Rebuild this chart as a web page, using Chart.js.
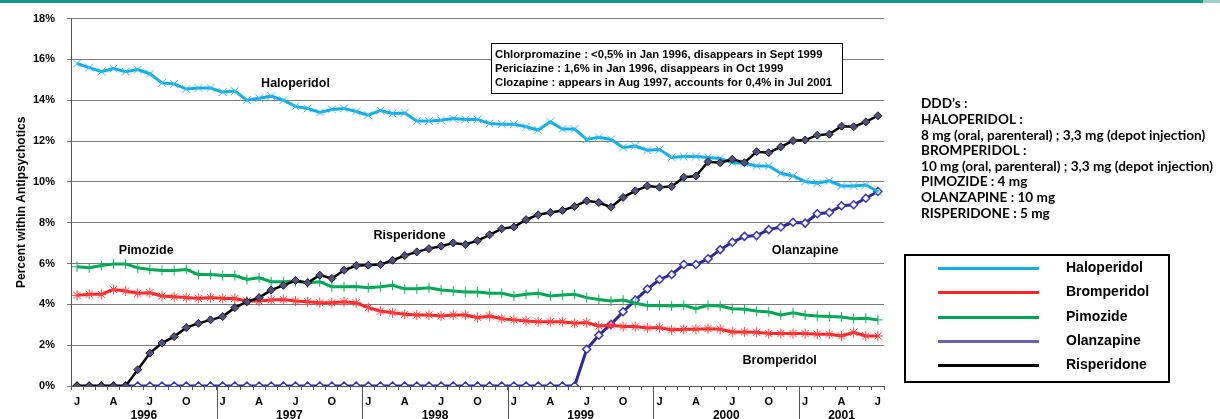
<!DOCTYPE html>
<html>
<head>
<meta charset="utf-8">
<script src="https://cdn.jsdelivr.net/npm/chart.js@4.4.1/dist/chart.umd.min.js"></script>
<style>
  html, body { margin: 0; padding: 0; background: #fff; }
  canvas { display: block; }
</style>
</head>
<body>
<canvas id="chart" width="1220" height="419"></canvas>
<script>
// monthly data, Jan 1996 .. Jul 2001
const years = [1996, 1997, 1998, 1999, 2000, 2001];
const monthLetters = ['J', 'F', 'M', 'A', 'M', 'J', 'J', 'A', 'S', 'O', 'N', 'D'];
const shownMonths = [0, 3, 6, 9];
const monthCount = 67;

const haloperidol = [15.8, 15.6, 15.4, 15.55, 15.4, 15.5, 15.3, 14.85, 14.8, 14.55, 14.6, 14.6,
  14.4, 14.45, 14.0, 14.1, 14.2, 14.0, 13.7, 13.6, 13.4, 13.55, 13.6, 13.45,
  13.27, 13.5, 13.35, 13.38, 12.98, 12.98, 13.02, 13.1, 13.06, 13.06, 12.86, 12.83,
  12.83, 12.7, 12.54, 12.94, 12.59, 12.59, 12.08, 12.18, 12.08, 11.69, 11.76, 11.55,
  11.59, 11.2, 11.24, 11.24, 11.2, 11.15, 10.94, 10.91, 10.78, 10.78, 10.42, 10.29,
  10.02, 9.93, 10.05, 9.8, 9.8, 9.85, 9.53];
const bromperidol = [4.44, 4.49, 4.49, 4.73, 4.65, 4.54, 4.57, 4.41, 4.37, 4.33, 4.29, 4.33,
  4.29, 4.29, 4.16, 4.16, 4.21, 4.24, 4.16, 4.13, 4.08, 4.08, 4.13, 4.08,
  3.84, 3.67, 3.59, 3.51, 3.48, 3.48, 3.43, 3.48, 3.48, 3.35, 3.43, 3.3,
  3.24, 3.19, 3.15, 3.15, 3.15, 3.07, 3.11, 2.94, 2.98, 2.91, 2.91, 2.84,
  2.86, 2.75, 2.78, 2.78, 2.81, 2.78, 2.65, 2.65, 2.63, 2.57, 2.57, 2.57,
  2.57, 2.54, 2.54, 2.45, 2.63, 2.45, 2.45];
const pimozide = [5.84, 5.79, 5.9, 5.98, 5.98, 5.79, 5.71, 5.66, 5.66, 5.71, 5.46, 5.46,
  5.41, 5.41, 5.22, 5.3, 5.11, 5.11, 5.13, 5.06, 5.11, 4.86, 4.86, 4.87,
  4.81, 4.86, 4.93, 4.76, 4.76, 4.81, 4.7, 4.65, 4.6, 4.6, 4.54, 4.54,
  4.41, 4.49, 4.54, 4.41, 4.46, 4.49, 4.33, 4.24, 4.16, 4.21, 4.05, 3.94,
  3.95, 3.92, 3.95, 3.79, 3.95, 3.92, 3.79, 3.76, 3.67, 3.63, 3.48, 3.59,
  3.48, 3.43, 3.4, 3.38, 3.3, 3.32, 3.24];
const olanzapine = [0, 0, 0, 0, 0, 0, 0, 0, 0, 0, 0, 0,
  0, 0, 0, 0, 0, 0, 0, 0, 0, 0, 0, 0,
  0, 0, 0, 0, 0, 0, 0, 0, 0, 0, 0, 0,
  0, 0, 0, 0, 0, 0, 1.8, 2.49, 3.02, 3.64, 4.21, 4.75,
  5.22, 5.46, 5.95, 5.95, 6.23, 6.68, 7.04, 7.33, 7.37, 7.66, 7.79, 8.02,
  7.98, 8.44, 8.5, 8.83, 8.88, 9.2, 9.53];
const risperidone = [0, 0, 0, 0, 0, 0.8, 1.61, 2.1, 2.42, 2.86, 3.07, 3.24,
  3.4, 3.84, 4.13, 4.33, 4.7, 4.93, 5.17, 5.06, 5.43, 5.27, 5.67, 5.9,
  5.92, 5.95, 6.16, 6.39, 6.57, 6.73, 6.85, 7.01, 6.93, 7.12, 7.41, 7.71,
  7.79, 8.15, 8.39, 8.5, 8.6, 8.8, 9.07, 8.99, 8.76, 9.24, 9.56, 9.8,
  9.74, 9.77, 10.23, 10.29, 10.99, 10.94, 11.11, 10.94, 11.48, 11.43, 11.72, 12.02,
  12.05, 12.29, 12.34, 12.73, 12.7, 12.94, 13.24];

const yTicks = [0, 2, 4, 6, 8, 10, 12, 14, 16, 18];

// text placed next to the curves: [text, month index, value]
const seriesNotes = [
  ['Haloperidol', 18.0, 14.82],
  ['Pimozide', 5.7, 6.62],
  ['Risperidone', 27.4, 7.39],
  ['Olanzapine', 60.0, 6.62],
  ['Bromperidol', 57.9, 1.24]
];
const boxLines = [
  'Chlorpromazine : <0,5% in Jan 1996, disappears in Sept 1999',
  'Periciazine : 1,6% in Jan 1996, disappears in Oct 1999',
  'Clozapine : appears in Aug 1997, accounts for 0,4% in Jul 2001'
];
const dddLines = [
  "DDD\u2019s :",
  'HALOPERIDOL :',
  '8 mg (oral, parenteral) ; 3,3 mg (depot injection)',
  'BROMPERIDOL :',
  '10 mg (oral, parenteral) ; 3,3 mg (depot injection)',
  'PIMOZIDE : 4 mg',
  'OLANZAPINE : 10 mg',
  'RISPERIDONE : 5 mg'
];

const categories = [];
for (let k = 0; k < monthCount; k++) {
  categories.push(monthLetters[k % 12] + ' ' + (years[0] + Math.floor(k / 12)));
}

const ARIAL = 'Arial, "Liberation Sans", sans-serif';

const decorPlugin = {
  id: 'decor',
  afterDraw(chart) {
    const ctx = chart.ctx;
    const x = chart.scales.x;
    const y = chart.scales.y;
    const half = (x.getPixelForValue(1) - x.getPixelForValue(0)) / 2;
    ctx.save();

    // top band of the slide
    ctx.fillStyle = '#13988a';
    ctx.fillRect(0, 0, 1203, 3);
    ctx.fillStyle = '#9fcfc8';
    ctx.fillRect(1203, 0, 17, 3);

    // year separators and year labels
    ctx.strokeStyle = '#555';
    ctx.lineWidth = 1;
    ctx.fillStyle = '#000';
    ctx.font = 'bold 12px ' + ARIAL;
    ctx.textAlign = 'center';
    ctx.textBaseline = 'top';
    years.forEach((yr, n) => {
      const k0 = n * 12;
      const k1 = Math.min(k0 + 11, monthCount - 1);
      const left = x.getPixelForValue(k0) - half;
      const right = x.getPixelForValue(k1) + half;
      if (n > 0) {
        const px = Math.round(left) + 0.5;
        ctx.beginPath();
        ctx.moveTo(px, y.bottom);
        ctx.lineTo(px, chart.height);
        ctx.stroke();
      }
      ctx.fillText(String(yr), (left + right) / 2, 410);
    });

    // labels next to the curves
    ctx.font = 'bold 12.5px ' + ARIAL;
    ctx.textBaseline = 'middle';
    seriesNotes.forEach(([txt, m, v]) => {
      ctx.fillText(txt, x.getPixelForValue(m), y.getPixelForValue(v));
    });

    // note box
    ctx.fillStyle = '#fff';
    ctx.fillRect(491, 43, 351, 50);
    ctx.strokeStyle = '#000';
    ctx.strokeRect(491.5, 43.5, 351, 50);
    ctx.fillStyle = '#000';
    ctx.font = 'bold 11.3px ' + ARIAL;
    ctx.textAlign = 'left';
    boxLines.forEach((t, k) => ctx.fillText(t, 495, 54.5 + k * 14));

    // DDD notes
    ctx.font = 'bold 13.6px Lato, "Open Sans", sans-serif';
    dddLines.forEach((t, k) => ctx.fillText(t, 921, 104 + k * 15.6));

    // legend
    ctx.lineWidth = 2;
    ctx.strokeRect(905, 255, 264, 127);
    ctx.font = 'bold 14px ' + ARIAL;
    chart.data.datasets.forEach((ds, k) => {
      const ly = Math.round(268 + k * 24.3) + 0.5;
      ctx.strokeStyle = ds.legendColor || ds.borderColor;
      ctx.lineWidth = 3;
      ctx.beginPath();
      ctx.moveTo(938, ly);
      ctx.lineTo(1039, ly);
      ctx.stroke();
      ctx.fillStyle = '#000';
      ctx.fillText(ds.label, 1066, ly);
    });
    ctx.restore();
  }
};

const ctx = document.getElementById('chart').getContext('2d');
const chart = new Chart(ctx, {
  type: 'line',
  data: {
    labels: categories,
    datasets: [
      {
        label: 'Haloperidol',
        data: haloperidol,
        borderColor: '#12aeea',
        borderWidth: 3,
        pointStyle: 'crossRot',
        pointRadius: 5.5,
        pointBorderWidth: 1,
        pointBorderColor: '#3cbcf0',
        order: 1
      },
      {
        label: 'Bromperidol',
        data: bromperidol,
        borderColor: '#ff2020',
        borderWidth: 3,
        pointStyle: 'star',
        pointRadius: 5,
        pointBorderWidth: 1,
        pointBorderColor: '#ff4040',
        order: 2
      },
      {
        label: 'Pimozide',
        data: pimozide,
        borderColor: '#00a651',
        borderWidth: 3,
        pointStyle: 'cross',
        pointRadius: 5,
        pointBorderWidth: 1,
        pointBorderColor: '#10b060',
        order: 3
      },
      {
        label: 'Olanzapine',
        data: olanzapine,
        borderColor: '#2c2c94',
        legendColor: '#6a62b0',
        borderWidth: 3,
        pointStyle: 'rectRot',
        pointRadius: 4,
        pointBorderWidth: 1.5,
        pointBorderColor: '#3a3aa8',
        pointBackgroundColor: '#f4f4ff',
        order: 4
      },
      {
        label: 'Risperidone',
        data: risperidone,
        borderColor: '#000',
        borderWidth: 2.5,
        pointStyle: 'rectRot',
        pointRadius: 4,
        pointBorderWidth: 1,
        pointBorderColor: '#1a1a30',
        pointBackgroundColor: '#50507a',
        order: 0
      }
    ]
  },
  options: {
    responsive: false,
    animation: false,
    devicePixelRatio: 1,
    layout: { padding: { left: 0, right: 336, top: 18, bottom: 0 } },
    plugins: {
      legend: { display: false },
      tooltip: { enabled: false }
    },
    elements: { line: { tension: 0 } },
    scales: {
      x: {
        offset: true,
        afterFit(scale) { scale.height = 33; },
        border: { display: true, color: '#555' },
        grid: { display: true, offset: true, drawOnChartArea: false, drawTicks: true, tickLength: 4, color: '#555' },
        ticks: {
          autoSkip: false,
          maxRotation: 0,
          padding: 5,
          color: '#000',
          font: { family: ARIAL, size: 11, weight: 'bold' },
          callback(val, idx) {
            return shownMonths.includes(idx % 12) ? monthLetters[idx % 12] : '';
          }
        }
      },
      y: {
        min: yTicks[0],
        max: yTicks[yTicks.length - 1],
        afterFit(scale) { scale.width = 71; },
        afterBuildTicks(scale) { scale.ticks = yTicks.map(v => ({ value: v })); },
        border: { display: true, color: '#555' },
        grid: { color: '#7a7a7a', tickLength: 4 },
        ticks: {
          padding: 12,
          color: '#000',
          font: { family: ARIAL, size: 11, weight: 'bold' },
          callback: v => v + '%'
        },
        title: {
          display: true,
          text: 'Percent within Antipsychotics',
          color: '#000',
          padding: { top: 14, bottom: 0 },
          font: { family: ARIAL, size: 12, weight: 'bold' }
        }
      }
    }
  },
  plugins: [decorPlugin]
});
</script>
</body>
</html>
